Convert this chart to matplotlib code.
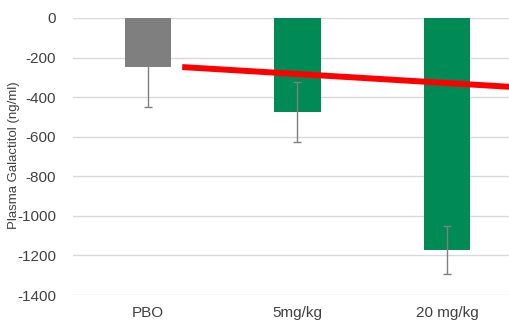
import matplotlib
matplotlib.use('Agg')

import matplotlib.pyplot as plt

plt.rcParams['font.family'] = ['Liberation Sans', 'DejaVu Sans']
plt.rcParams['axes.unicode_minus'] = False

# Data
groups = ["PBO", "5mg/kg", "20 mg/kg"]
means = [-250, -475, -1172]
errors = [200, 152, 120]
bar_colors = ["#7f7f7f", "#008a55", "#008a55"]

trend_x = [0.23, 2.42]
trend_y = [-248, -348]

TEXT = "#404040"
GRID = "#d9d9d9"

fig = plt.figure(figsize=(5.10, 3.24), dpi=100)
ax = fig.add_axes([0.143, 0.0895, 0.857, 0.855])

x = range(len(groups))
ax.bar(x, means, width=0.31, color=bar_colors, zorder=2)
ax.errorbar(x, means, yerr=errors, fmt='none', ecolor="#7f7f7f",
            elinewidth=1.0, capsize=3, capthick=1.0, zorder=3)

ax.plot(trend_x, trend_y, color="#ff0000", linewidth=4.3,
        solid_capstyle='butt', zorder=4)

ax.set_xlim(-0.5, 2.42)
ax.set_ylim(-1400, 0)
ax.set_yticks(range(-1400, 1, 200))
ax.set_xticks(list(x))
ax.set_xticklabels(groups)

ax.grid(axis='y', color=GRID, linewidth=1.0, zorder=0)
ax.set_axisbelow(True)
for s in ax.spines.values():
    s.set_visible(False)
ax.tick_params(axis='both', length=0, labelsize=11, colors=TEXT)
ax.tick_params(axis='y', pad=12)
ax.tick_params(axis='x', pad=8)

fig.text(0.027, 0.52, "Plasma Galactitol (ng/ml)", rotation=90,
         ha='center', va='center', fontsize=9.5, color=TEXT)

fig.savefig("out.png", dpi=100, facecolor="white")
